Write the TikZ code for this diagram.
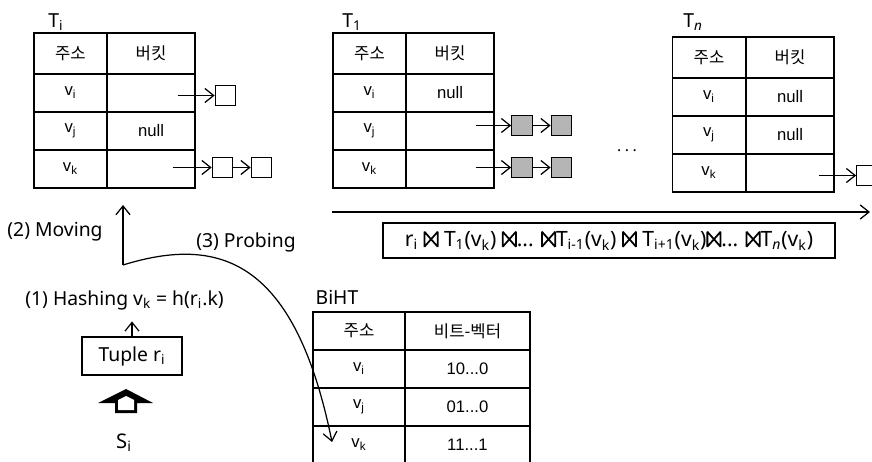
\documentclass[tikz,border=0pt]{standalone}
\usepackage{fontspec}
\setmainfont{Noto Sans}
\newfontfamily\kr{Noto Sans CJK KR}
\newfontfamily\cellfont{Liberation Sans}
\usetikzlibrary{arrows.meta, calc}
\definecolor{entry-gray}{HTML}{B5B5B5}
% join sign, drawn as a small bow tie
\newcommand{\jn}{\tikz[baseline=0pt]\draw[x=1pt, y=1pt, line width=1pt,
  line join=bevel] (0,0) -- (0,8.5) -- (7.5,0) -- (7.5,8.5) -- cycle;}

\begin{document}
\begin{tikzpicture}[x=0.02cm, y=-0.02cm, line width=0.7pt,
    every node/.style={font=\fontsize{11}{13}\selectfont},
    addr/.style={draw, minimum width=1.46cm, minimum height=0.76cm,
      inner sep=0pt, font=\cellfont\fontsize{9.5}{11}\selectfont},
    bkt/.style={addr, minimum width=1.76cm},
    hd/.style={minimum height=0.82cm},
    baddr/.style={addr, minimum width=1.84cm},
    bbits/.style={addr, minimum width=2.5cm},
    entry/.style={draw, minimum width=0.41cm, minimum height=0.41cm,
      inner sep=0pt},
    ptr/.style={-{Straight Barb[length=5pt, width=8pt]}}]
    \useasboundingbox (0,0) rectangle (872,462);
    \clip (0,0) rectangle (872,462);
    % hash table T_i of the incoming stream
    \node (til) at (56,22) {T\textsubscript{i}};
    \node[addr, hd] (ia0) at (70.5,53.5) {\kr 주소};
    \node[bkt, hd] (ib0) at (151,53.5) {\kr 버킷};
    \node[addr] (ia1) at (70.5,93) {v\textsubscript{i}};
    \node[bkt] (ib1) at (151,93) {};
    \node[addr] (ia2) at (70.5,131) {v\textsubscript{j}};
    \node[bkt] (ib2) at (151,131) {null};
    \node[addr] (ia3) at (70.5,169) {v\textsubscript{k}};
    \node[bkt] (ib3) at (151,169) {};
    \node[entry] (ie1) at (225.5,95.5) {};
    \node[entry] (ik1) at (222.5,167.5) {};
    \node[entry] (ik2) at (261.5,167.5) {};
    \draw[ptr] ($(ib1.east |- ie1)+(-18,0)$) -- (ie1);
    \draw[ptr] ($(ib3.east |- ik1)+(-23,0)$) -- (ik1);
    \draw[ptr] (ik1) -- (ik2);
    % hash table T_1
    \node (tol) at (352,22) {T\textsubscript{1}};
    \node[addr, hd] (oa0) at (369.5,53.5) {\kr 주소};
    \node[bkt, hd] (ob0) at (450,53.5) {\kr 버킷};
    \node[addr] (oa1) at (369.5,93) {v\textsubscript{i}};
    \node[bkt] (ob1) at (450,93) {null};
    \node[addr] (oa2) at (369.5,131) {v\textsubscript{j}};
    \node[bkt] (ob2) at (450,131) {};
    \node[addr] (oa3) at (369.5,169) {v\textsubscript{k}};
    \node[bkt] (ob3) at (450,169) {};
    \node[entry, fill=entry-gray] (oj1) at (522,125.5) {};
    \node[entry, fill=entry-gray] (oj2) at (561.5,125.5) {};
    \node[entry, fill=entry-gray] (ok1) at (522,167.5) {};
    \node[entry, fill=entry-gray] (ok2) at (561.5,167.5) {};
    \draw[ptr] ($(ob2.east |- oj1)+(-19,0)$) -- (oj1);
    \draw[ptr] (oj1) -- (oj2);
    \draw[ptr] ($(ob3.east |- ok1)+(-19,0)$) -- (ok1);
    \draw[ptr] (ok1) -- (ok2);
    \node[font=\bfseries\fontsize{9}{10}\selectfont] (dots) at (627,151) {.\hspace{2pt}.\hspace{2pt}.};
    % hash table T_n
    \node (tnl) at (693,22) {T\textsubscript{\textit{n}}};
    \node[addr, hd] (na0) at (709,57.5) {\kr 주소};
    \node[bkt, hd] (nb0) at (790,57.5) {\kr 버킷};
    \node[addr] (na1) at (709,97) {v\textsubscript{i}};
    \node[bkt] (nb1) at (790,97) {null};
    \node[addr] (na2) at (709,135) {v\textsubscript{j}};
    \node[bkt] (nb2) at (790,135) {null};
    \node[addr] (na3) at (709,173) {v\textsubscript{k}};
    \node[bkt] (nb3) at (790,173) {};
    \node[entry] (nk1) at (867,175.5) {};
    \draw[ptr] ($(nb3.east |- nk1)+(-16,0)$) -- (nk1);
    % join pipeline
    \coordinate (js) at (332,212);
    \coordinate (je) at (870,212);
    \draw[ptr] (js) -- (je);
    \node[draw, minimum width=9.04cm, minimum height=0.7cm, inner sep=0pt,
      font=\fontsize{12}{13}\selectfont] (join) at (609,240.5)
      {r\textsubscript{i} \jn{} T\textsubscript{1}(v\textsubscript{k}) \jn... \jn T\textsubscript{i-1}(v\textsubscript{k}) \jn{} T\textsubscript{i+1}(v\textsubscript{k})\jn... \jn T\textsubscript{\textit{n}}(v\textsubscript{k})};
    % bit-vector table
    \node (bl) at (337,297) {BiHT};
    \node[baddr] (ba0) at (359,331) {\kr 주소};
    \node[bbits] (bb0) at (467.5,331) {\kr 비트-벡터};
    \node[baddr] (ba1) at (359,369) {v\textsubscript{i}};
    \node[bbits] (bb1) at (467.5,369) {10...0};
    \node[baddr] (ba2) at (359,407) {v\textsubscript{j}};
    \node[bbits] (bb2) at (467.5,407) {01...0};
    \node[baddr] (ba3) at (359,445) {v\textsubscript{k}};
    \node[bbits] (bb3) at (467.5,445) {11...1};
    % incoming tuple and its three steps
    \node[font=\fontsize{11.5}{13}\selectfont] (si) at (124,443) {S\textsubscript{i}};
    \fill (98,403) -- (126,389) -- (153,403) -- (137,403) -- (137,413)
      -- (115,413) -- (115,403) -- cycle;
    \fill[white] (118,400) -- (126,396) -- (134,400) -- (134,410)
      -- (118,410) -- cycle;
    \node[draw, minimum width=2cm, minimum height=0.76cm] (tuple) at (132,356)
      {Tuple r\textsubscript{i}};
    \node (hash) at (124.5,300) {(1) Hashing v\textsubscript{k} = h(r\textsubscript{i}.k)};
    \draw[ptr, shorten >=3pt] (tuple.north) -- (tuple.north |- hash.south);
    \coordinate (fork) at (123,265);
    \coordinate (mv) at (123,205);
    \draw[ptr] (fork) -- (mv);
    \node (movl) at (55,232) {(2) Moving};
    \node (prol) at (246,242) {(3) Probing};
    \coordinate (probe) at (332,442);
    \draw[ptr] (fork) .. controls (220,235) and (295,260) .. (probe);
  \end{tikzpicture}
\end{document}
